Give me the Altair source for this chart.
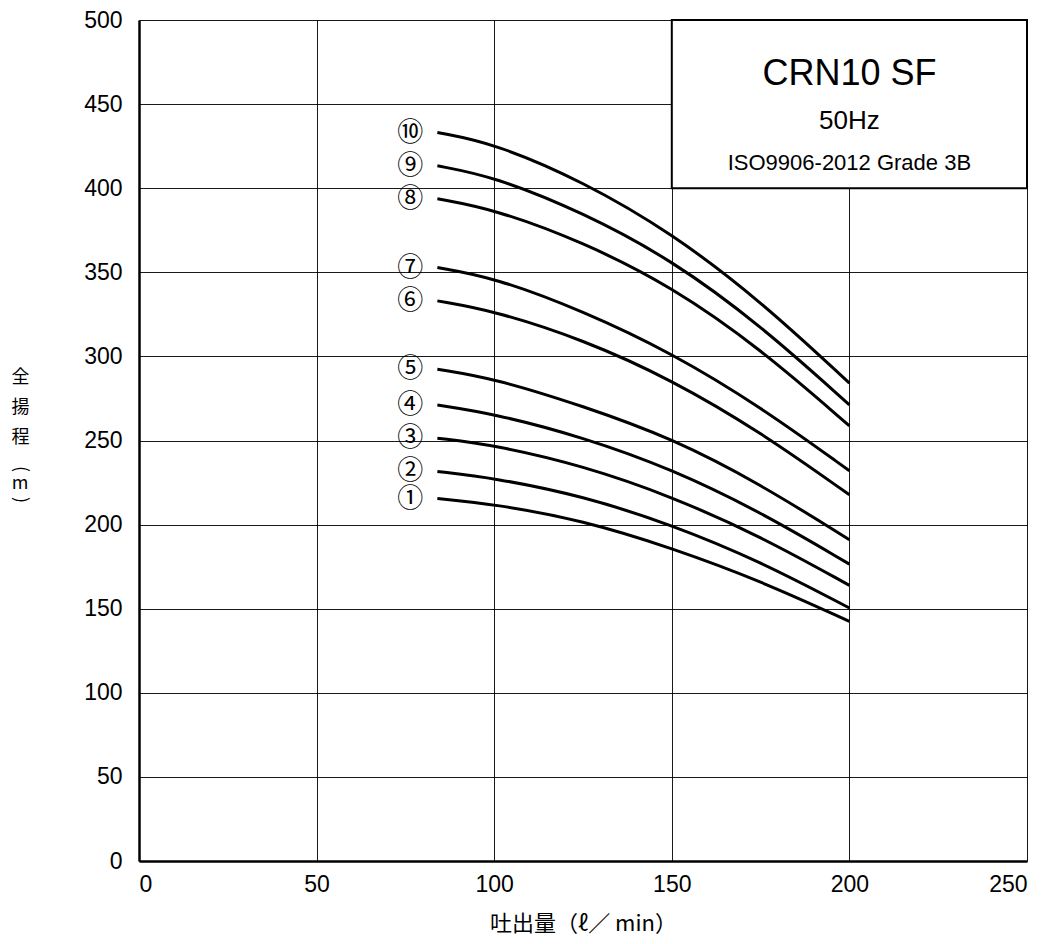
import altair as alt
import pandas as pd

# flow rate (l/min) at which head readings were taken
flow = [84, 100, 125, 150, 175, 200]

# total head (m) for each curve ①..⑩
head_1 = [215.5, 212.2, 202.5, 186.1, 166.5, 142.5]
head_2 = [231.6, 227.7, 217.0, 199.9, 178.0, 150.4]
head_3 = [251.4, 247.3, 235.0, 216.7, 193.0, 163.9]
head_4 = [271.1, 265.9, 252.0, 233.0, 207.5, 176.5]
head_5 = [292.4, 286.9, 270.5, 251.4, 224.0, 191.0]
head_6 = [333.0, 327.1, 310.0, 286.1, 255.0, 217.7]
head_7 = [352.8, 346.9, 327.0, 302.0, 270.0, 232.0]
head_8 = [393.7, 387.5, 368.0, 341.5, 304.5, 258.7]
head_9 = [413.3, 406.9, 385.5, 357.4, 318.5, 271.2]
head_10 = [433.1, 426.7, 404.0, 373.3, 333.0, 284.1]

labels = ["①", "②", "③", "④", "⑤", "⑥", "⑦", "⑧", "⑨", "⑩"]
heads = [head_1, head_2, head_3, head_4, head_5, head_6, head_7, head_8, head_9, head_10]

x_ticks = [0, 50, 100, 150, 200, 250]
y_ticks = [0, 50, 100, 150, 200, 250, 300, 350, 400, 450, 500]

rows = []
for i, (lab, h) in enumerate(zip(labels, heads)):
    for q, v in zip(flow, h):
        rows.append({"curve": i + 1, "label": lab, "flow": q, "head": v})
df = pd.DataFrame(rows)
start_df = df[df["flow"] == flow[0]]

FONT = "Liberation Sans"
JP = "Noto Sans CJK JP"

x_scale = alt.Scale(domain=[0, 250], nice=False)
y_scale = alt.Scale(domain=[0, 500], nice=False)

x_enc = alt.X("flow:Q", scale=x_scale,
              axis=alt.Axis(values=x_ticks, title="吐出量（ℓ／ min）", titleFont=JP,
                            titleFontSize=22, titleFontWeight="normal", titlePadding=17,
                            labelFont=FONT, labelFontSize=23, labelPadding=12, ticks=False,
                            grid=True, gridColor="#000", gridWidth=0.9,
                            domainColor="#000", domainWidth=2.5, labelColor="#000",
                            titleColor="#000"))
y_enc = alt.Y("head:Q", scale=y_scale,
              axis=alt.Axis(values=y_ticks, title=["全", "揚", "程"], titleFont=JP,
                            titleFontSize=18, titleFontWeight="normal", titleAngle=0,
                            titleX=-119, titleY=348, titleBaseline="top", titleAlign="center",
                            titleLineHeight=30,
                            labelFont=FONT, labelFontSize=23, labelPadding=17, ticks=False,
                            grid=True, gridColor="#000", gridWidth=0.9,
                            domainColor="#000", domainWidth=2.5, labelColor="#000",
                            titleColor="#000"))

lines = alt.Chart(df).mark_line(color="#000", strokeWidth=3, interpolate="basis").encode(
    x=x_enc, y=y_enc, detail="curve:N"
)

num_labels = alt.Chart(start_df).mark_text(
    font=JP, fontSize=26, color="#000", dx=-27, align="center", baseline="middle"
).encode(x=alt.X("flow:Q", scale=x_scale), y=alt.Y("head:Q", scale=y_scale), text="label:N")

one = pd.DataFrame({"a": [0]})

box = alt.Chart(one).mark_rect(
    fill="white", stroke="#000", strokeWidth=2
).encode(x=alt.datum(150, scale=x_scale), x2=alt.datum(250),
         y=alt.datum(400, scale=y_scale), y2=alt.datum(500))

t1 = alt.Chart(one).mark_text(
    text="CRN10 SF", font=FONT, fontSize=36, color="#000", baseline="middle"
).encode(x=alt.datum(200, scale=x_scale), y=alt.datum(468, scale=y_scale))
t2 = alt.Chart(one).mark_text(
    text="50Hz", font=FONT, fontSize=26, color="#000", baseline="middle"
).encode(x=alt.datum(200, scale=x_scale), y=alt.datum(440, scale=y_scale))
t3 = alt.Chart(one).mark_text(
    text="ISO9906-2012 Grade 3B", font=FONT, fontSize=22, color="#000", baseline="middle"
).encode(x=alt.datum(200, scale=x_scale), y=alt.datum(415, scale=y_scale))

# vertical "(m)" under the y title
u_open = alt.Chart(one).mark_text(
    text="(", font=JP, fontSize=18, color="#000", angle=90, align="center", baseline="middle"
).encode(x=alt.value(-119), y=alt.value(449))
u_m = alt.Chart(one).mark_text(
    text="m", font=JP, fontSize=18, color="#000", align="center", baseline="middle"
).encode(x=alt.value(-119), y=alt.value(464))
u_close = alt.Chart(one).mark_text(
    text=")", font=JP, fontSize=18, color="#000", angle=90, align="center", baseline="middle"
).encode(x=alt.value(-119), y=alt.value(480))

chart = alt.layer(lines, box, t1, t2, t3, num_labels, u_open, u_m, u_close).properties(
    width=888, height=841,
    autosize=alt.AutoSizeParams(type="none"),
    padding={"left": 131, "top": 12, "right": 16, "bottom": 75},
).configure_view(stroke="#000", strokeWidth=2).configure(background="white")

chart.save("out.html", embed_options={"renderer": "svg", "actions": False})
